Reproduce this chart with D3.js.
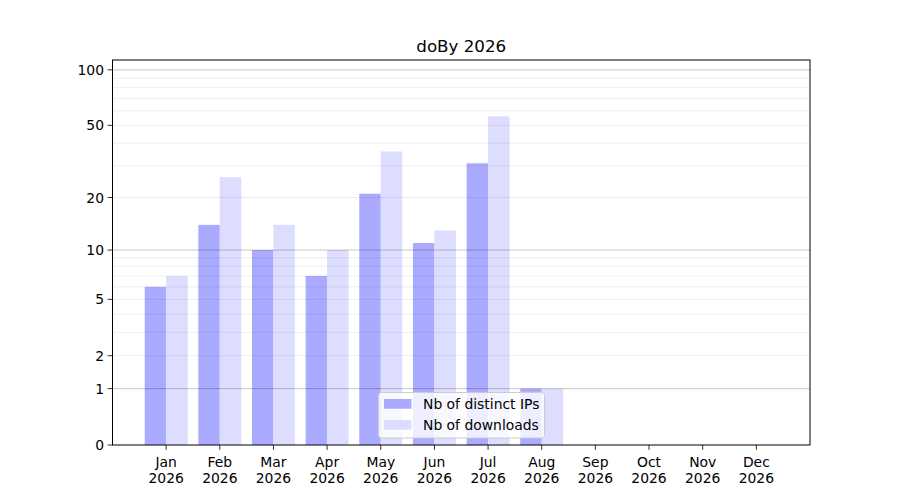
<!DOCTYPE html>
<meta charset="utf-8">
<style>
    body{ margin:0; background:#fff; }
    svg text{ font-family:"DejaVu Sans", sans-serif; fill:#000; }
</style>
<script src="https://d3js.org/d3.v7.min.js"></script>
<body>
<div id="chart"></div>
<script>
    var months = ["Jan","Feb","Mar","Apr","May","Jun","Jul","Aug","Sep","Oct","Nov","Dec"];
    var year = "2026";
    var ips = [6, 14, 10, 7, 21, 11, 31, 1, 0, 0, 0, 0];
    var downloads = [7, 26, 14, 10, 36, 13, 56, 1, 0, 0, 0, 0];
    var majorTicks = [0, 1, 2, 5, 10, 20, 50, 100];
    var minorTicks = [3, 4, 6, 7, 8, 9, 30, 40, 60, 70, 80, 90];
    var decadeTicks = [1, 10, 100];

    var width = 900, height = 500;
    // plot box (window.top is reserved, hence the names)
    var plotLeft = 112.5, plotRight = 810, plotTop = 60, plotBottom = 445;

    var svg = d3.select("#chart").append("svg")
        .attr("width", width)
        .attr("height", height);

    // x in bar-index units, y as log10(1+v)
    var x = d3.scaleLinear().domain([-1, 12]).range([plotLeft, plotRight]);
    var ly = d3.scaleLinear().domain([0, Math.log10(114)]).range([plotBottom, plotTop]);
    function y(v){ return ly(Math.log10(1 + v)); }

    var barW = x(0.4) - x(0);

    svg.append("g").selectAll("rect")
        .data(ips)
        .enter().append("rect")
        .attr("x", function(d, i){ return x(i - 0.4); })
        .attr("y", function(d){ return y(d); })
        .attr("width", barW)
        .attr("height", function(d){ return plotBottom - y(d); })
        .attr("fill", "#aaaaff");

    svg.append("g").selectAll("rect")
        .data(downloads)
        .enter().append("rect")
        .attr("x", function(d, i){ return x(i); })
        .attr("y", function(d){ return y(d); })
        .attr("width", barW)
        .attr("height", function(d){ return plotBottom - y(d); })
        .attr("fill", "#ddddff");

    // grid over bars
    var light = minorTicks.concat(majorTicks.filter(function(t){ return t > 0 && decadeTicks.indexOf(t) < 0; }));
    svg.append("g").selectAll("line")
        .data(light)
        .enter().append("line")
        .attr("x1", plotLeft).attr("x2", plotRight)
        .attr("y1", function(d){ return y(d); })
        .attr("y2", function(d){ return y(d); })
        .attr("stroke", "rgba(0,0,0,0.07)")
        .attr("stroke-width", 1);
    svg.append("g").selectAll("line")
        .data(decadeTicks)
        .enter().append("line")
        .attr("x1", plotLeft).attr("x2", plotRight)
        .attr("y1", function(d){ return y(d); })
        .attr("y2", function(d){ return y(d); })
        .attr("stroke", "rgba(0,0,0,0.22)")
        .attr("stroke-width", 1);

    // y axis
    var yAxis = svg.append("g");
    yAxis.selectAll("line")
        .data(majorTicks)
        .enter().append("line")
        .attr("x1", plotLeft - 4.9).attr("x2", plotLeft)
        .attr("y1", function(d){ return y(d); })
        .attr("y2", function(d){ return y(d); })
        .attr("stroke", "#000").attr("stroke-width", 0.8);
    yAxis.selectAll("text")
        .data(majorTicks)
        .enter().append("text")
        .attr("x", plotLeft - 8.5)
        .attr("y", function(d){ return y(d); })
        .attr("dy", "0.36em")
        .attr("text-anchor", "end")
        .attr("font-size", "13.9px")
        .text(function(d){ return d; });

    // x axis
    var xAxis = svg.append("g");
    xAxis.selectAll("line")
        .data(months)
        .enter().append("line")
        .attr("x1", function(d, i){ return x(i); })
        .attr("x2", function(d, i){ return x(i); })
        .attr("y1", plotBottom).attr("y2", plotBottom + 4.9)
        .attr("stroke", "#000").attr("stroke-width", 0.8);
    var lbl = xAxis.selectAll("text")
        .data(months)
        .enter().append("text")
        .attr("text-anchor", "middle")
        .attr("font-size", "13.9px");
    lbl.append("tspan")
        .attr("x", function(d, i){ return x(i); })
        .attr("y", 466.5)
        .text(function(d){ return d; });
    lbl.append("tspan")
        .attr("x", function(d, i){ return x(i); })
        .attr("y", 482.5)
        .text(year);

    // frame
    svg.append("rect")
        .attr("x", plotLeft).attr("y", plotTop)
        .attr("width", plotRight - plotLeft).attr("height", plotBottom - plotTop)
        .attr("fill", "none").attr("stroke", "#000").attr("stroke-width", 1);

    svg.append("text")
        .attr("x", (plotLeft + plotRight) / 2)
        .attr("y", 52.3)
        .attr("text-anchor", "middle")
        .attr("font-size", "16.7px")
        .text("doBy " + year);

    // legend
    var legendItems = [
        {label: "Nb of distinct IPs", color: "#aaaaff"},
        {label: "Nb of downloads", color: "#ddddff"}
    ];
    var lg = svg.append("g");
    lg.append("rect")
        .attr("x", 378.5).attr("y", 392.5)
        .attr("width", 166).attr("height", 45.5)
        .attr("rx", 3)
        .attr("fill", "rgba(255,255,255,0.8)")
        .attr("stroke", "#cccccc").attr("stroke-width", 1);
    lg.selectAll(".patch")
        .data(legendItems)
        .enter().append("rect")
        .attr("x", 384).attr("y", function(d, i){ return 399 + i * 21; })
        .attr("width", 27.5).attr("height", 9.7)
        .attr("fill", function(d){ return d.color; });
    lg.selectAll(".ltext")
        .data(legendItems)
        .enter().append("text")
        .attr("x", 423)
        .attr("y", function(d, i){ return 409 + i * 21; })
        .attr("font-size", "13.9px")
        .text(function(d){ return d.label; });
</script>
</body>
